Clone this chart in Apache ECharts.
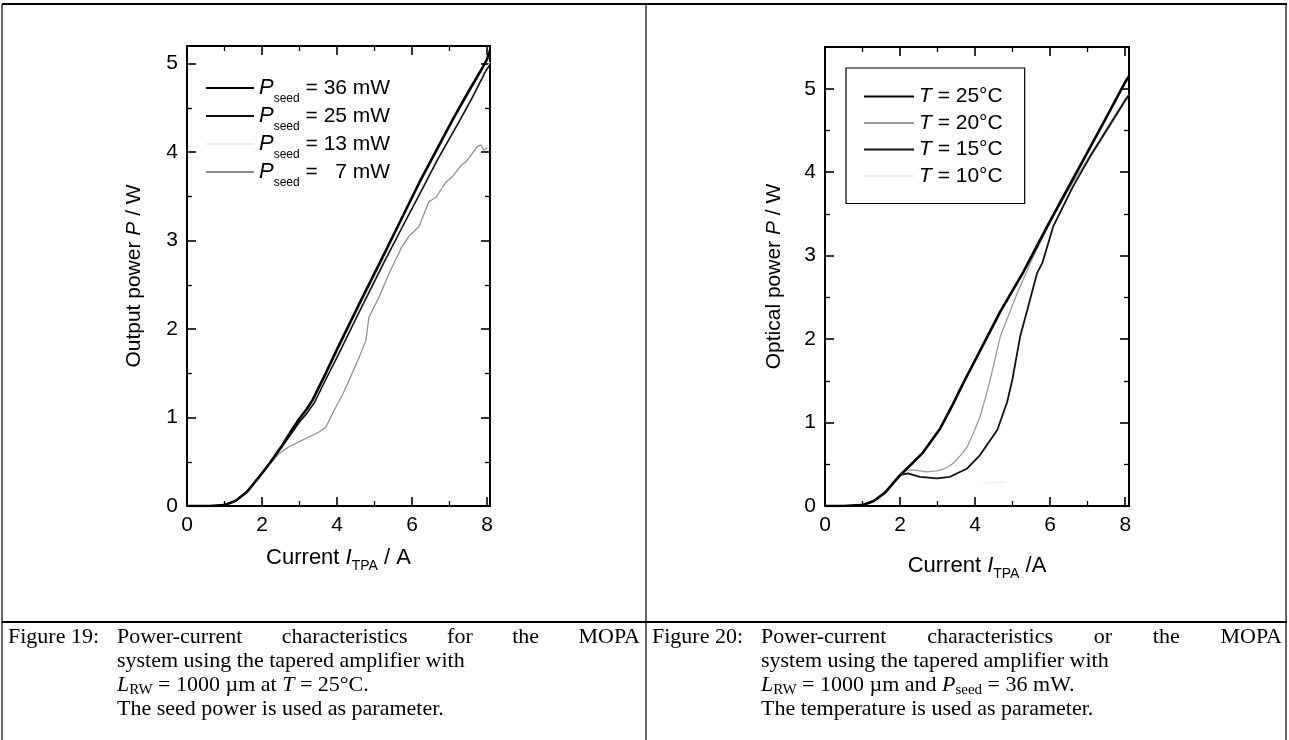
<!DOCTYPE html>
<html><head><meta charset="utf-8">
<script src="https://cdn.jsdelivr.net/npm/echarts@6/dist/echarts.min.js"></script>
<style>html,body{margin:0;padding:0;background:#fff}#c{width:1289px;height:740px}</style>
</head><body><div id="c"></div>
<script>
// ---------- Figure 19 data (seed power as parameter) ----------
const seedNames = ['P_seed = 36 mW', 'P_seed = 25 mW', 'P_seed = 13 mW', 'P_seed = 7 mW'];
const seedLegendText = ['{i|P}{s|seed}{n| = 36 mW}', '{i|P}{s|seed}{n| = 25 mW}', '{i|P}{s|seed}{n| = 13 mW}', '{i|P}{s|seed}{n| =   7 mW}'];
const x36 = [0, 0.6, 1.0, 1.3, 1.6, 2.0, 2.2, 2.5, 2.75, 3.0, 3.2, 3.35, 3.7, 4.0, 4.6, 5.2, 5.7, 6.2, 6.6, 7.1, 7.5, 7.9, 8.0, 8.08];
const y36 = [0, 0, 0.01, 0.06, 0.16, 0.37, 0.48, 0.66, 0.83, 0.99, 1.10, 1.20, 1.50, 1.77, 2.29, 2.80, 3.23, 3.66, 3.98, 4.38, 4.68, 4.97, 5.05, 5.15];
const x25 = [0, 0.6, 1.0, 1.3, 1.6, 2.0, 2.2, 2.5, 2.75, 3.0, 3.2, 3.4, 3.7, 4.0, 4.6, 5.25, 5.7, 6.27, 6.7, 7.25, 7.6, 7.97, 8.08];
const y25 = [0, 0, 0.01, 0.06, 0.16, 0.37, 0.48, 0.65, 0.80, 0.95, 1.05, 1.17, 1.43, 1.68, 2.20, 2.75, 3.12, 3.58, 3.93, 4.34, 4.61, 4.92, 4.99];
const x13 = [0, 0.6, 1.0, 1.3, 1.6, 2.0, 2.2, 2.5, 2.75, 3.0, 3.2, 3.4, 3.7, 4.0, 4.6, 5.25, 5.7, 6.27, 6.7, 7.25, 7.6, 7.97, 8.08];
const y13 = [0, 0, 0.01, 0.06, 0.16, 0.37, 0.48, 0.655, 0.815, 0.97, 1.075, 1.19, 1.47, 1.72, 2.25, 2.78, 3.17, 3.62, 3.95, 4.36, 4.64, 4.94, 5.02];
const x7 = [0, 0.6, 1.0, 1.3, 1.6, 2.0, 2.2, 2.45, 2.72, 3.0, 3.25, 3.5, 3.7, 3.97, 4.15, 4.32, 4.59, 4.77, 4.85, 5.12, 5.39, 5.73, 5.92, 6.19, 6.45, 6.64, 6.9, 7.07, 7.33, 7.44, 7.6, 7.73, 7.84, 7.92, 8.0];
const y7 = [0, 0, 0.01, 0.06, 0.16, 0.36, 0.47, 0.59, 0.67, 0.73, 0.78, 0.83, 0.89, 1.12, 1.26, 1.42, 1.68, 1.87, 2.13, 2.36, 2.63, 2.93, 3.05, 3.16, 3.44, 3.49, 3.66, 3.72, 3.86, 3.89, 3.98, 4.06, 4.08, 4.02, 4.05];

// ---------- Figure 20 data (temperature as parameter) ----------
const tempNames = ['T = 25°C', 'T = 20°C', 'T = 15°C', 'T = 10°C'];
const tempLegendText = ['{i|T}{n| = 25°C}', '{i|T}{n| = 20°C}', '{i|T}{n| = 15°C}', '{i|T}{n| = 10°C}'];
const xT25 = [0, 0.5, 1.0, 1.3, 1.6, 2.0, 2.3, 2.61, 3.07, 3.41, 3.68, 4.05, 4.67, 5.28, 5.92, 6.45, 6.8, 7.15, 7.5, 7.87, 8.0, 8.1];
const yT25 = [0, 0, 0.01, 0.06, 0.16, 0.37, 0.50, 0.64, 0.93, 1.22, 1.47, 1.79, 2.33, 2.80, 3.35, 3.79, 4.08, 4.37, 4.66, 4.97, 5.08, 5.15];
const xT20 = [0, 0.5, 1.0, 1.3, 1.6, 2.0, 2.18, 2.4, 2.7, 2.98, 3.2, 3.41, 3.6, 3.79, 3.95, 4.13, 4.27, 4.4, 4.67, 5.12, 5.55, 6.08, 6.61, 7.07, 7.5, 8.0, 8.1];
const yT20 = [0, 0, 0.01, 0.06, 0.16, 0.37, 0.43, 0.43, 0.41, 0.42, 0.45, 0.51, 0.60, 0.71, 0.87, 1.07, 1.29, 1.51, 2.03, 2.55, 2.99, 3.47, 3.88, 4.21, 4.52, 4.88, 4.93];
const xT15 = [0, 0.5, 1.0, 1.3, 1.6, 2.0, 2.2, 2.53, 2.98, 3.33, 3.79, 4.13, 4.59, 4.85, 4.99, 5.2, 5.45, 5.65, 5.79, 6.08, 6.61, 7.07, 7.5, 8.0, 8.1];
const yT15 = [0, 0, 0.01, 0.06, 0.16, 0.37, 0.39, 0.35, 0.33, 0.35, 0.45, 0.61, 0.91, 1.24, 1.51, 2.03, 2.45, 2.79, 2.91, 3.35, 3.83, 4.19, 4.50, 4.86, 4.92];
const xT10 = [4.2, 4.4, 4.6, 4.8];
const yT10 = [0.27, 0.28, 0.28, 0.29];

// ---------- axis ticks ----------
const xTickStep = 2;
const yTickStep = 1;

// ---------- captions ----------
const cap19 = ['Figure 19:', 'Power-current characteristics for the MOPA', 'system using the tapered amplifier with', '{i|L}{sub|RW}{n| = 1000 µm at }{i|T}{n| = 25°C.}', 'The seed power is used as parameter.'];
const cap20 = ['Figure 20:', 'Power-current characteristics or the MOPA', 'system using the tapered amplifier with', '{i|L}{sub|RW}{n| = 1000 µm and }{i|P}{sub|seed}{n| = 36 mW.}', 'The temperature is used as parameter.'];

const pts = (xs, ys) => xs.map((x, i) => [x, ys[i]]);
const SANS = 'Liberation Sans, Arial, sans-serif';
const SERIF = '"Liberation Serif", "Times New Roman", serif';
const black = '#000';
const CAP_FS = 22;

const xFmt = v => (Math.abs(v / xTickStep - Math.round(v / xTickStep)) < 1e-9 ? String(Math.round(v)) : '');
const yFmt = v => (Math.abs(v / yTickStep - Math.round(v / yTickStep)) < 1e-9 ? String(Math.round(v)) : '');

const axisRich = {
  n: { fontSize: 21, fontFamily: SANS, color: black, lineHeight: 26 },
  i: { fontSize: 21, fontFamily: SANS, fontStyle: 'italic', color: black, lineHeight: 26 },
  s: { fontSize: 13, fontFamily: SANS, color: black, lineHeight: 26, padding: [16, 0, 0, 0] }
};
const xNameRich = {
  n: { fontSize: 22, fontFamily: SANS, color: black, lineHeight: 26 },
  i: { fontSize: 22, fontFamily: SANS, fontStyle: 'italic', color: black, lineHeight: 26 },
  s: { fontSize: 14, fontFamily: SANS, color: black, lineHeight: 26, padding: [16, 0, 0, 0] }
};

function mkX(grid, max, pos, name, gap) {
  return {
    type: 'value', gridIndex: grid, min: 0, max: max, interval: xTickStep, position: pos,
    axisLine: { show: true, onZero: false, lineStyle: { color: black, width: 2 } },
    axisTick: { show: true, inside: true, length: 9, lineStyle: { color: black, width: 1.6 } },
    minorTick: { show: true, splitNumber: 2, length: 5, lineStyle: { color: black, width: 1.3 } },
    splitLine: { show: false },
    axisLabel: pos === 'bottom' ? { show: true, fontSize: 21, fontFamily: SANS, color: black, margin: 9, formatter: xFmt } : { show: false },
    name: name || '', nameLocation: 'middle', nameGap: gap || 40,
    nameTextStyle: { rich: xNameRich }
  };
}
function mkY(grid, max, pos, name, gap) {
  return {
    type: 'value', gridIndex: grid, min: 0, max: max, interval: yTickStep, position: pos,
    axisLine: { show: true, onZero: false, lineStyle: { color: black, width: 2 } },
    axisTick: { show: true, inside: true, length: 9, lineStyle: { color: black, width: 1.6 } },
    minorTick: { show: true, splitNumber: 2, length: 5, lineStyle: { color: black, width: 1.3 } },
    splitLine: { show: false },
    axisLabel: pos === 'left' ? { show: true, fontSize: 21, fontFamily: SANS, color: black, margin: 9, formatter: yFmt } : { show: false },
    name: name || '', nameLocation: 'middle', nameGap: gap || 44,
    nameTextStyle: { rich: axisRich }
  };
}

function line(name, data, xi, color, width, z) {
  return { type: 'line', name: name, data: data, xAxisIndex: xi, yAxisIndex: xi, symbol: 'none', showSymbol: false,
    lineStyle: { color: color, width: width }, itemStyle: { color: color }, z: z, silent: true, animation: false };
}

const legendRich = {
  n: { fontSize: 21, fontFamily: SANS, color: black, lineHeight: 26 },
  i: { fontSize: 22, fontFamily: SANS, fontStyle: 'italic', color: black, lineHeight: 26 },
  s: { fontSize: 12, fontFamily: SANS, color: black, lineHeight: 26, padding: [22, 0, 0, 0] }
};
const tempRich = {
  n: { fontSize: 21, fontFamily: SANS, color: black, lineHeight: 22 },
  i: { fontSize: 21, fontFamily: SANS, fontStyle: 'italic', color: black, lineHeight: 22 }
};

const capRich = {
  n: { fontSize: CAP_FS, fontFamily: SERIF, color: black, lineHeight: 24 },
  i: { fontSize: CAP_FS, fontFamily: SERIF, fontStyle: 'italic', color: black, lineHeight: 24 },
  sub: { fontSize: 15, fontFamily: SERIF, color: black, lineHeight: 24, padding: [10, 0, 0, 0] }
};

// text measuring for the justified first caption line
const mctx = document.createElement('canvas').getContext('2d');
mctx.font = CAP_FS + 'px ' + SERIF;

const capY = [637, 661, 685, 709];
function capLines(cap, x0, x1, xEnd) {
  const g = [];
  const add = (t, x, y) => g.push({ type: 'text', x: x, y: y, silent: true,
    style: { text: t.indexOf('{') >= 0 ? t : '{n|' + t + '}', rich: capRich, fill: black, verticalAlign: 'middle', align: 'left' } });
  add(cap[0], x0, capY[0]);
  // first line is justified (Word-style) to the full column width
  const words = cap[1].split(' ');
  const widths = words.map(w => mctx.measureText(w).width);
  const total = widths.reduce((a, b) => a + b, 0);
  const gapW = (xEnd - x1 - total) / (words.length - 1);
  let cx = x1;
  words.forEach((w, k) => { add(w, cx, capY[0]); cx += widths[k] + gapW; });
  add(cap[2], x1, capY[1]);
  add(cap[3], x1, capY[2]);
  add(cap[4], x1, capY[3]);
  return g;
}
const seg = (x1, y1, x2, y2, w) => ({ type: 'line', silent: true, shape: { x1, y1, x2, y2 }, style: { stroke: black, lineWidth: w } });

const chart = echarts.init(document.getElementById('c'), null, { renderer: 'canvas' });
chart.setOption({
  backgroundColor: '#fff',
  animation: false,
  grid: [
    { left: 187, top: 46, width: 303, height: 460 },
    { left: 825, top: 47, width: 304, height: 459 }
  ],
  xAxis: [
    mkX(0, 8.08, 'bottom', '{n|Current }{i|I}{s|TPA}{n| / A}', 39),
    mkX(1, 8.1, 'bottom', '{n|Current }{i|I}{s|TPA}{n| /A}', 47),
    mkX(0, 8.08, 'top'),
    mkX(1, 8.1, 'top')
  ],
  yAxis: [
    mkY(0, 5.2, 'left', '{n|Output power }{i|P}{n| / W}', 40),
    mkY(1, 5.5, 'left', '{n|Optical power }{i|P}{n| / W}', 38),
    mkY(0, 5.2, 'right'),
    mkY(1, 5.5, 'right')
  ],
  legend: [
    {
      data: seedNames, orient: 'vertical', left: 205, top: 71, padding: 0, itemGap: -6,
      itemWidth: 48, itemHeight: 12, selectedMode: false,
      itemStyle: { opacity: 0 },
      formatter: n => seedLegendText[seedNames.indexOf(n)],
      textStyle: { rich: legendRich }
    },
    {
      data: tempNames, orient: 'vertical', left: 846, top: 68, padding: [18, 22, 17, 17], itemGap: 5.5,
      itemWidth: 50, itemHeight: 12, selectedMode: false,
      itemStyle: { opacity: 0 },
      borderColor: black, borderWidth: 1.2,
      formatter: n => tempLegendText[tempNames.indexOf(n)],
      textStyle: { rich: tempRich }
    }
  ],
  series: [
    line(seedNames[2], pts(x13, y13), 0, '#eeeeee', 1, 1),
    line(seedNames[3], pts(x7, y7), 0, '#8c8c8c', 1.2, 2),
    line(seedNames[1], pts(x25, y25), 0, '#111111', 1.6, 3),
    line(seedNames[0], pts(x36, y36), 0, '#000000', 2.6, 4),
    line(tempNames[3], pts(xT10, yT10), 1, '#eeeeee', 1, 1),
    line(tempNames[1], pts(xT20, yT20), 1, '#9a9a9a', 1.3, 2),
    line(tempNames[2], pts(xT15, yT15), 1, '#111111', 1.8, 3),
    line(tempNames[0], pts(xT25, yT25), 1, '#000000', 2.6, 4)
  ],
  graphic: [
    seg(2, 4, 1287, 4, 2),
    seg(2, 4, 2, 740, 1.2),
    seg(1286, 4, 1286, 740, 1.2),
    seg(646, 4, 646, 740, 1.2),
    seg(2, 622, 1287, 622, 2),
    ...capLines(cap19, 8, 117, 640),
    ...capLines(cap20, 652, 761, 1282)
  ]
});
</script></body></html>
